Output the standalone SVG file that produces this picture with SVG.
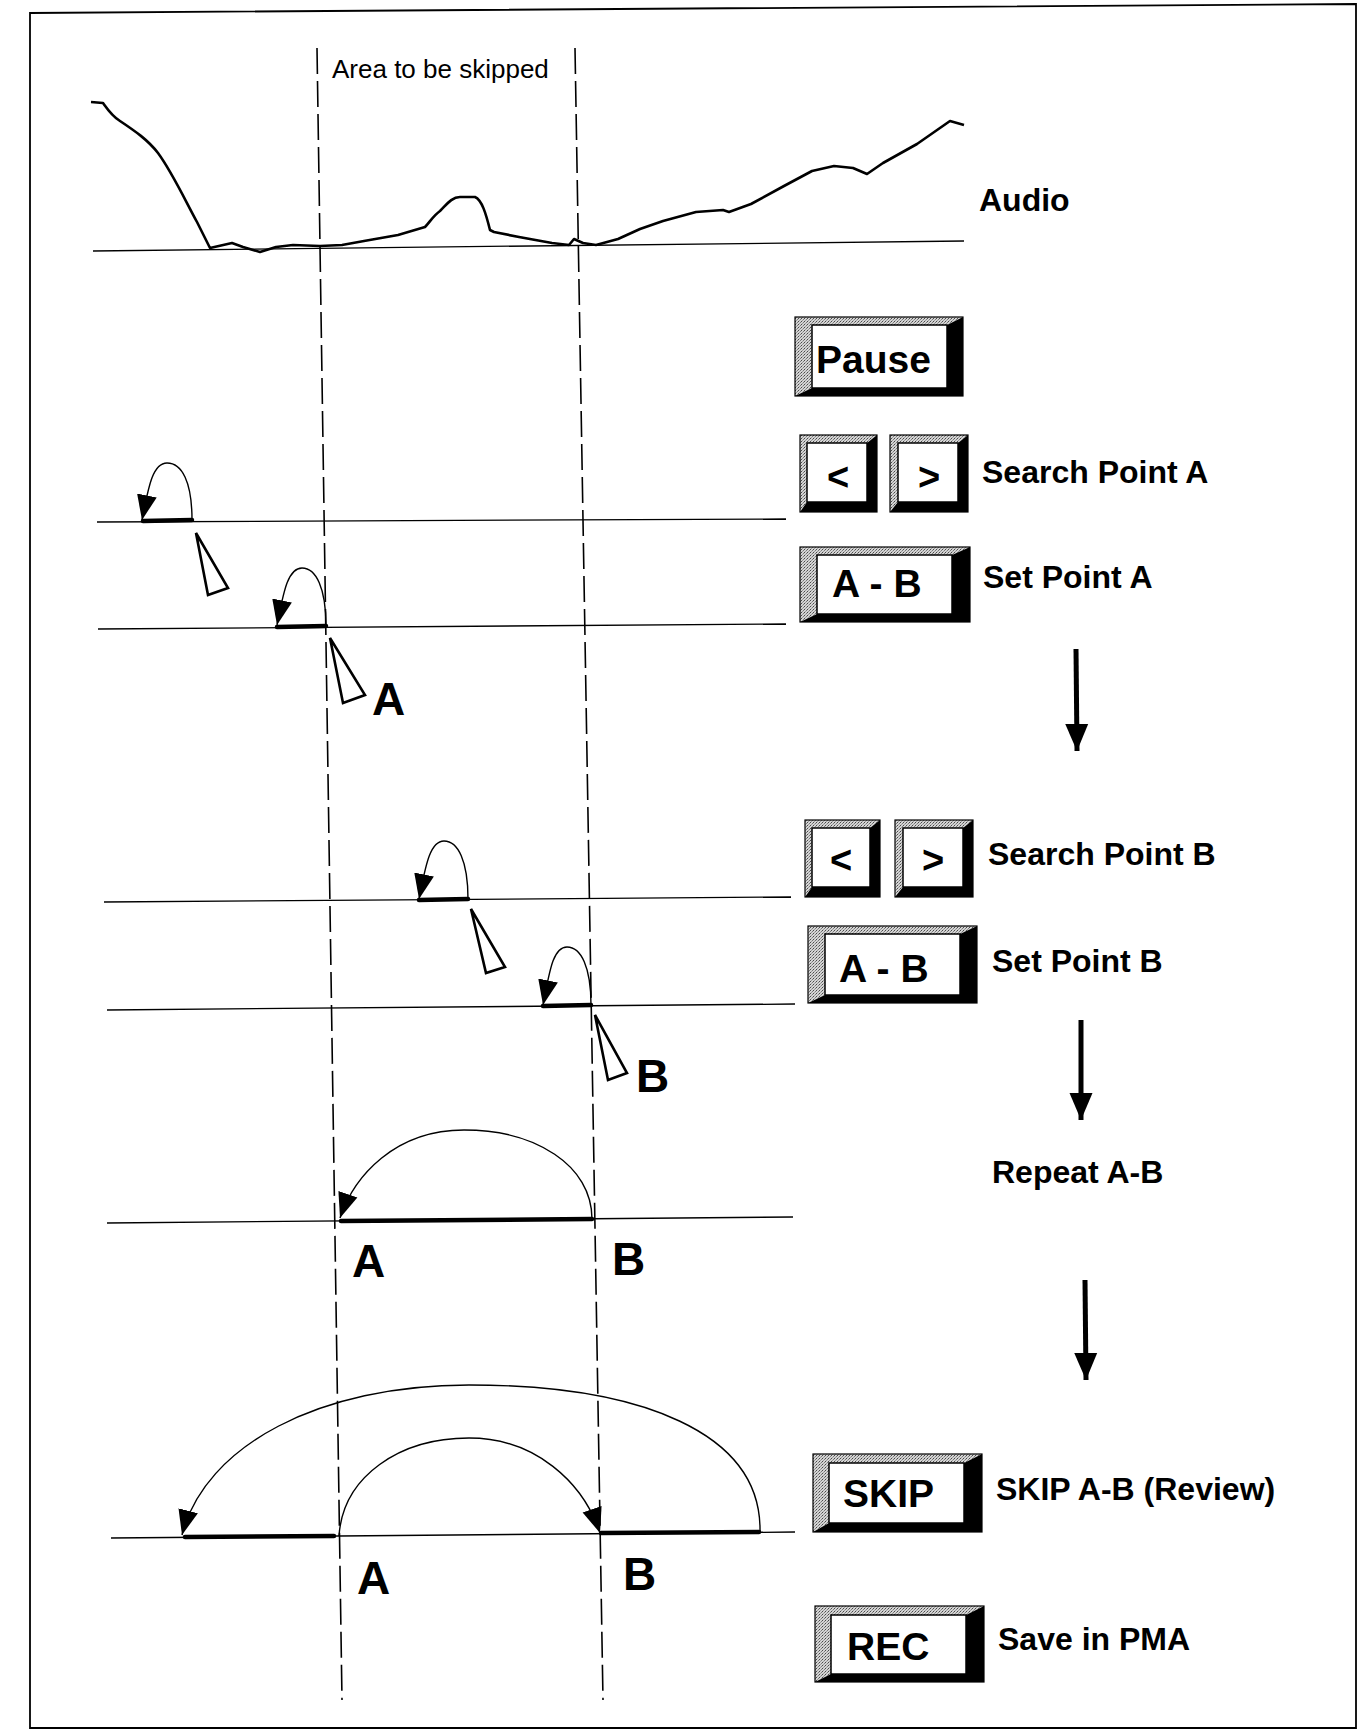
<svg xmlns="http://www.w3.org/2000/svg" width="1366" height="1732" viewBox="0 0 1366 1732">
<style>
.bg{fill:#fff}
.frame{fill:none;stroke:#000;stroke-width:1.8}
.dash{fill:none;stroke:#000;stroke-width:1.6;stroke-dasharray:26 7}
.track{fill:none;stroke:#000;stroke-width:1.3}
.thick{fill:none;stroke:#000;stroke-width:4.5;stroke-linecap:round}
.wave{fill:none;stroke:#000;stroke-width:2.6;stroke-linejoin:round}
.arc{fill:none;stroke:#000;stroke-width:1.4}
.ptr{fill:#fff;stroke:#000;stroke-width:2.6;stroke-linejoin:miter}
.down{fill:none;stroke:#000;stroke-width:5}
.lt{fill:url(#stip);stroke:none}
.dk{fill:#000;stroke:none}
.face{fill:#fff;stroke:#000;stroke-width:1.5}
.edge{fill:none;stroke:#000;stroke-width:1.2}
.btn{font-family:"Liberation Sans",Arial,sans-serif;font-weight:bold;font-size:39px;fill:#000}
.sym{font-family:"Liberation Sans",Arial,sans-serif;font-weight:bold;font-size:38px;fill:#000;text-anchor:middle}
.lbl{font-family:"Liberation Sans",Arial,sans-serif;font-weight:bold;font-size:32px;fill:#000}
.big{font-family:"Liberation Sans",Arial,sans-serif;font-weight:bold;font-size:46px;fill:#000}
.note{font-family:"Liberation Sans",Arial,sans-serif;font-size:26px;fill:#000}
</style>
<defs>
<pattern id="stip" width="3" height="3" patternUnits="userSpaceOnUse">
<rect width="3" height="3" fill="#d4d4d4"/>
<rect width="1" height="1" fill="#4a4a4a"/>
<rect x="2" y="1" width="1" height="1" fill="#7a7a7a"/>
<rect x="1" y="2" width="1" height="1" fill="#999"/>
</pattern>
<marker id="head" markerUnits="userSpaceOnUse" viewBox="0 -11 26 22" markerWidth="26" markerHeight="22" refX="25" refY="0" orient="auto">
<path d="M0,-10 L25,0 L0,10 Z" fill="#000"/>
</marker>
<marker id="down" markerUnits="userSpaceOnUse" viewBox="0 -12 28 24" markerWidth="28" markerHeight="24" refX="27" refY="0" orient="auto">
<path d="M0,-11.5 L27,0 L0,11.5 Z" fill="#000"/>
</marker>
</defs>
<rect class="bg" x="0" y="0" width="1366" height="1732"/>
<path class="frame" d="M30,13 L1356,4 L1356,1728 L30,1728 Z"/>

<g id="skip-area">
<line class="dash" x1="317" y1="48" x2="342" y2="1700"/>
<line class="dash" x1="575" y1="48" x2="603" y2="1700"/>
<text class="note" x="332" y="78">Area to be skipped</text>
</g>

<g id="audio">
<line class="track" x1="93" y1="251" x2="964" y2="241"/>
<path class="wave" d="M91,102 L103,103 C108,110 112,116 120,121 C135,131 148,140 158,153 C172,172 185,200 197,222 L210,248 L232,243 L243,247 L260,252 L276,247 L293,245 L320,246 L342,245 L364,241 L398,235 L425,227 C430,222 433,216 440,211 C447,204 452,197 460,197 L475,197 C482,200 486,214 490,230 L494,232 L519,237 L552,243 L569,245 L574,239 L583,243 L596,245 L618,239 L640,229 L663,221 L696,212 L723,210 L729,212 L751,204 L784,186 L812,171 L834,166 L853,168 L867,174 L883,163 L917,144 L950,121 L964,125"/>
<text class="lbl" x="979" y="211">Audio</text>
</g>

<g id="btn-pause">
<polygon class="lt" points="795,317 963,317 947,325 812,325 812,388 795,396"/>
<polygon class="dk" points="963,317 963,396 795,396 812,388 947,388 947,325"/>
<rect class="face" x="812" y="325" width="135" height="63"/>
<rect class="edge" x="795" y="317" width="168" height="79"/>
<text class="btn" x="816" y="373" font-size="38">Pause</text>
</g>

<g id="btn-search-a-back">
<polygon class="lt" points="800,435 877,435 867,443 807,443 807,502 800,512"/>
<polygon class="dk" points="877,435 877,512 800,512 807,502 867,502 867,443"/>
<rect class="face" x="807" y="443" width="60" height="59"/>
<rect class="edge" x="800" y="435" width="77" height="77"/>
<text class="sym" x="838" y="490">&lt;</text>
</g>
<g id="btn-search-a-fwd">
<polygon class="lt" points="890,435 968,435 958,443 898,443 898,502 890,512"/>
<polygon class="dk" points="968,435 968,512 890,512 898,502 958,502 958,443"/>
<rect class="face" x="898" y="443" width="60" height="59"/>
<rect class="edge" x="890" y="435" width="78" height="77"/>
<text class="sym" x="929" y="490">&gt;</text>
</g>
<g id="label-search-a"><text class="lbl" x="982" y="483">Search Point A</text></g>

<g id="btn-ab-a">
<polygon class="lt" points="800,547 970,547 952,555 817,555 817,614 800,622"/>
<polygon class="dk" points="970,547 970,622 800,622 817,614 952,614 952,555"/>
<rect class="face" x="817" y="555" width="135" height="59"/>
<rect class="edge" x="800" y="547" width="170" height="75"/>
<text class="btn" x="832" y="597" font-size="40">A - B</text>
</g>
<g id="label-set-a"><text class="lbl" x="983" y="588">Set Point A</text></g>

<g id="track-search-a">
<line class="track" x1="97" y1="522" x2="786" y2="519"/>
<line class="thick" x1="143" y1="521" x2="192" y2="520"/>
<polygon class="ptr" points="196,533 208,595 228,588"/>
</g>
<g id="track-set-a">
<line class="track" x1="98" y1="629" x2="786" y2="624"/>
<line class="thick" x1="277" y1="627" x2="326" y2="626"/>
<polygon class="ptr" points="330,638 343,703 365,695"/>
<text class="big" x="372" y="715">A</text>
</g>

<g id="btn-search-b-back">
<polygon class="lt" points="805,820 880,820 870,828 812,828 812,887 805,897"/>
<polygon class="dk" points="880,820 880,897 805,897 812,887 870,887 870,828"/>
<rect class="face" x="812" y="828" width="58" height="59"/>
<rect class="edge" x="805" y="820" width="75" height="77"/>
<text class="sym" x="841" y="873">&lt;</text>
</g>
<g id="btn-search-b-fwd">
<polygon class="lt" points="895,820 973,820 963,828 903,828 903,887 895,897"/>
<polygon class="dk" points="973,820 973,897 895,897 903,887 963,887 963,828"/>
<rect class="face" x="903" y="828" width="60" height="59"/>
<rect class="edge" x="895" y="820" width="78" height="77"/>
<text class="sym" x="933" y="873">&gt;</text>
</g>
<g id="label-search-b"><text class="lbl" x="988" y="865">Search Point B</text></g>

<g id="btn-ab-b">
<polygon class="lt" points="808,926 977,926 960,934 825,934 825,995 808,1003"/>
<polygon class="dk" points="977,926 977,1003 808,1003 825,995 960,995 960,934"/>
<rect class="face" x="825" y="934" width="135" height="61"/>
<rect class="edge" x="808" y="926" width="169" height="77"/>
<text class="btn" x="839" y="982" font-size="40">A - B</text>
</g>
<g id="label-set-b"><text class="lbl" x="992" y="972">Set Point B</text></g>

<g id="track-search-b">
<line class="track" x1="104" y1="902" x2="791" y2="897"/>
<line class="thick" x1="419" y1="900" x2="468" y2="899"/>
<polygon class="ptr" points="471,909 486,973 505,967"/>
</g>
<g id="track-set-b">
<line class="track" x1="107" y1="1010" x2="795" y2="1004"/>
<line class="thick" x1="543" y1="1006" x2="591" y2="1005"/>
<polygon class="ptr" points="595,1015 608,1080 627,1073"/>
<text class="big" x="636" y="1092">B</text>
</g>

<g id="label-repeat"><text class="lbl" x="992" y="1183">Repeat A-B</text></g>
<g id="track-repeat">
<line class="track" x1="107" y1="1223" x2="793" y2="1217"/>
<line class="thick" x1="341" y1="1221" x2="592" y2="1219"/>
<text class="big" x="352" y="1277">A</text>
<text class="big" x="612" y="1275">B</text>
</g>

<g id="btn-skip">
<polygon class="lt" points="813,1454 982,1454 964,1463 829,1463 829,1523 813,1532"/>
<polygon class="dk" points="982,1454 982,1532 813,1532 829,1523 964,1523 964,1463"/>
<rect class="face" x="829" y="1463" width="135" height="60"/>
<rect class="edge" x="813" y="1454" width="169" height="78"/>
<text class="btn" x="843" y="1507">SKIP</text>
</g>
<g id="label-skip"><text class="lbl" x="996" y="1500">SKIP A-B (Review)</text></g>

<g id="track-skip">
<line class="track" x1="111" y1="1538" x2="795" y2="1532"/>
<line class="thick" x1="185" y1="1537" x2="334" y2="1536"/>
<line class="thick" x1="601" y1="1533" x2="759" y2="1532"/>
<text class="big" x="357" y="1594">A</text>
<text class="big" x="623" y="1590">B</text>
</g>

<g id="btn-rec">
<polygon class="lt" points="815,1606 984,1606 966,1615 831,1615 831,1674 815,1682"/>
<polygon class="dk" points="984,1606 984,1682 815,1682 831,1674 966,1674 966,1615"/>
<rect class="face" x="831" y="1615" width="135" height="59"/>
<rect class="edge" x="815" y="1606" width="169" height="76"/>
<text class="btn" x="847" y="1660">REC</text>
</g>
<g id="label-rec"><text class="lbl" x="998" y="1650">Save in PMA</text></g>

<g id="connectors">
<path class="arc" marker-end="url(#head)" d="M192,520 C192,482 182,463 167,463 C152,463 148,490 142,520"/>
<path class="arc" marker-end="url(#head)" d="M326,626 C326,588 316,568 302,568 C287,568 283,596 277,625"/>
<path class="arc" marker-end="url(#head)" d="M468,899 C468,861 458,841 444,841 C429,841 425,870 419,899"/>
<path class="arc" marker-end="url(#head)" d="M591,1005 C591,967 581,947 567,947 C552,947 549,976 543,1005"/>
<path class="arc" marker-end="url(#head)" d="M592,1219 C592,1165 535,1130 464,1130 C395,1130 354,1176 340,1218"/>
<path class="arc" marker-end="url(#head)" d="M760,1532 C762,1432 640,1385 469,1385 C320,1385 205,1445 182,1535"/>
<path class="arc" marker-end="url(#head)" d="M339,1536 C343,1476 400,1438 469,1438 C535,1438 583,1482 600,1533"/>
<path class="down" marker-end="url(#down)" d="M1076,649 L1077,751"/>
<path class="down" marker-end="url(#down)" d="M1081,1020 L1081,1120"/>
<path class="down" marker-end="url(#down)" d="M1085,1280 L1086,1380"/>
</g>
</svg>
